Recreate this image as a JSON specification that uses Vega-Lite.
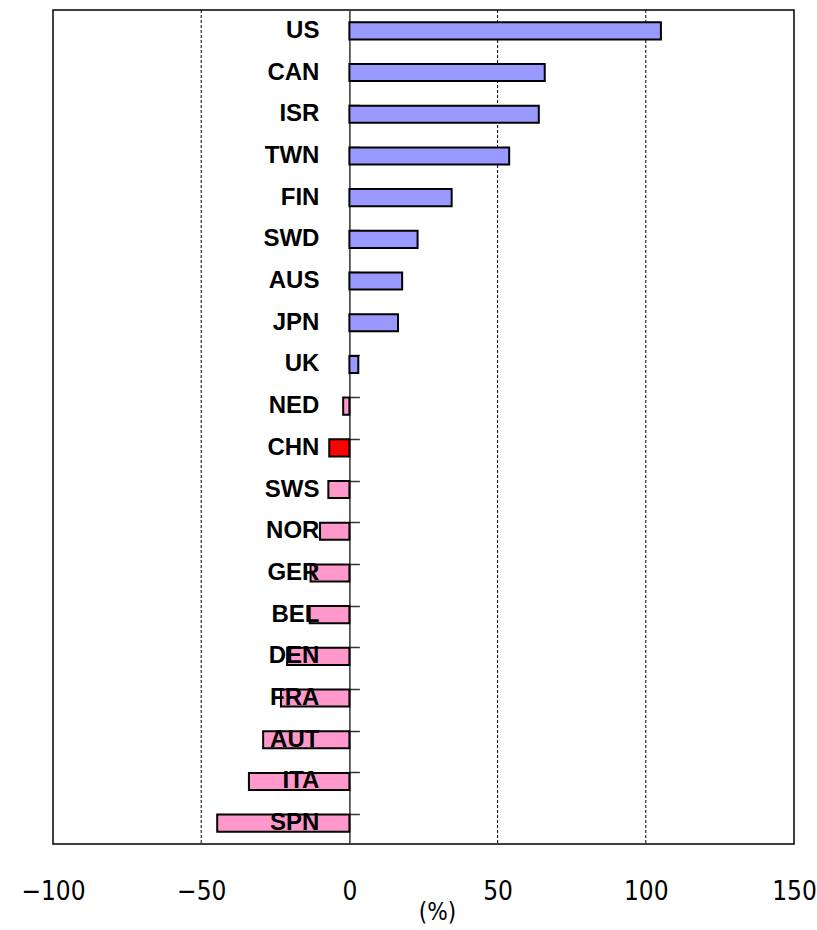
{
  "$schema": "https://vega.github.io/schema/vega-lite/v6.json",
  "width": 741,
  "height": 834,
  "autosize": "none",
  "padding": {"left": 53, "top": 10, "right": 23, "bottom": 86},
  "background": "white",
  "config": {"view": {"stroke": "#000", "strokeWidth": 1.5}},
  "data": {
    "values": [
      {"country": "US", "value": 105.1, "group": "pos"},
      {"country": "CAN", "value": 65.9, "group": "pos"},
      {"country": "ISR", "value": 63.9, "group": "pos"},
      {"country": "TWN", "value": 53.9, "group": "pos"},
      {"country": "FIN", "value": 34.5, "group": "pos"},
      {"country": "SWD", "value": 23.0, "group": "pos"},
      {"country": "AUS", "value": 17.8, "group": "pos"},
      {"country": "JPN", "value": 16.4, "group": "pos"},
      {"country": "UK", "value": 3.0, "group": "pos"},
      {"country": "NED", "value": -2.1, "group": "neg"},
      {"country": "CHN", "value": -6.8, "group": "chn"},
      {"country": "SWS", "value": -7.1, "group": "neg"},
      {"country": "NOR", "value": -9.9, "group": "neg"},
      {"country": "GER", "value": -13.1, "group": "neg"},
      {"country": "BEL", "value": -13.4, "group": "neg"},
      {"country": "DEN", "value": -21.0, "group": "neg"},
      {"country": "FRA", "value": -23.1, "group": "neg"},
      {"country": "AUT", "value": -29.1, "group": "neg"},
      {"country": "ITA", "value": -33.9, "group": "neg"},
      {"country": "SPN", "value": -44.6, "group": "neg"}
    ]
  },
  "layer": [
    {
      "data": {"values": [{"g": -50}, {"g": 50}, {"g": 100}]},
      "mark": {"type": "rule", "strokeDash": [3, 2], "color": "#000", "strokeWidth": 1},
      "encoding": {"x": {"field": "g", "type": "quantitative"}}
    },
    {
      "mark": {"type": "bar", "stroke": "#000", "strokeWidth": 2},
      "encoding": {
        "y": {
          "field": "country",
          "type": "nominal",
          "sort": null,
          "scale": {"paddingInner": 0.59, "paddingOuter": 0.295},
          "axis": {
            "orient": "left",
            "offset": -296.4,
            "bandPosition": 0,
            "labels": false,
            "tickSize": -10,
            "domainColor": "#333",
            "tickColor": "#333",
            "domainWidth": 1.5,
            "tickWidth": 1.5,
            "title": null,
            "grid": false
          }
        },
        "x": {
          "field": "value",
          "type": "quantitative",
          "scale": {"domain": [-100, 150], "nice": false},
          "axis": {
            "values": [-100, -50, 0, 50, 100, 150],
            "grid": false,
            "ticks": false,
            "domain": false,
            "labelFontSize": 26,
            "labelFont": "DejaVu Sans Condensed",
            "labelPadding": 34,
            "labelFlush": false,
            "labelColor": "#000",
            "title": "(%)",
            "titleFont": "DejaVu Sans Condensed",
            "titleFontSize": 24,
            "titleFontWeight": "normal",
            "titleColor": "#000",
            "titlePadding": -4,
            "titleX": 384
          }
        },
        "fill": {
          "field": "group",
          "type": "nominal",
          "scale": {"domain": ["pos", "neg", "chn"], "range": ["#9999ff", "#ff99cc", "#ff0000"]},
          "legend": null
        }
      }
    },
    {
      "mark": {"type": "text", "align": "right", "baseline": "middle", "dx": -30, "fontSize": 24, "fontWeight": "bold", "font": "Liberation Sans", "color": "#000"},
      "encoding": {
        "y": {"field": "country", "type": "nominal", "sort": null},
        "x": {"datum": 0},
        "text": {"field": "country"}
      }
    }
  ]
}
